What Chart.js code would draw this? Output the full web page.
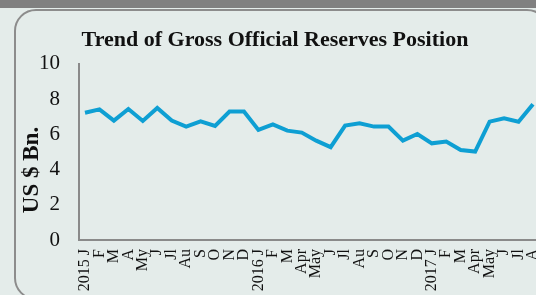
<!DOCTYPE html>
<html>
<head>
<meta charset="utf-8">
<script src="https://cdn.jsdelivr.net/npm/chart.js@4.4.1/dist/chart.umd.min.js"></script>
<style>
  html, body { margin: 0; padding: 0; width: 536px; height: 295px; overflow: hidden; background: #e4ecea; }
  #band { position: absolute; left: 0; top: 0; width: 536px; height: 8px; background: #808080; }
  #panel { position: absolute; left: 14px; top: 9px; width: 535px; height: 291px; box-sizing: border-box;
           border: 2px solid #8c8c8c; border-radius: 22px; background: #e4ecea; }
  #wrap { position: absolute; left: 0; top: 0; width: 536px; height: 295px; }
</style>
</head>
<body>
<div id="band"></div>
<div id="panel"></div>
<div id="wrap"><canvas id="c" width="536" height="295"></canvas></div>
<script>
// Meses (ene 2015 - ago 2017)
const monthLabels = ['2015 J', 'F', 'M', 'A', 'My', 'J', 'Jl', 'Au', 'S', 'O', 'N', 'D',
  '2016 J', 'F', 'M', 'Apr', 'May', 'J', 'Jl', 'Au', 'S', 'O', 'N', 'D',
  '2017 J', 'F', 'M', 'Apr', 'May', 'J', 'Jl', 'A'];
// Reservas brutas, US$ miles de millones
const reserves = [7.23, 7.42, 6.78, 7.44, 6.76, 7.50, 6.78, 6.44, 6.74, 6.48, 7.29, 7.29,
  6.25, 6.57, 6.21, 6.10, 5.64, 5.27, 6.50, 6.63, 6.44, 6.44, 5.64, 6.02,
  5.49, 5.59, 5.11, 5.02, 6.72, 6.91, 6.72, 7.71];
const yTicks = [0, 2, 4, 6, 8, 10];
const yTitle = 'US $ Bn.';

const serif = "'Liberation Serif', 'Times New Roman', serif";
const axisGrey = '#8a8a8a';

// Título del eje Y, un poco más abajo que el centro del eje
const yTitlePlugin = {
  id: 'yTitle',
  afterDraw(chart) {
    const ctx = chart.ctx;
    ctx.save();
    ctx.translate(32, 170);
    ctx.rotate(-Math.PI / 2);
    ctx.font = 'bold 23px ' + serif;
    ctx.fillStyle = '#111';
    ctx.textAlign = 'center';
    ctx.textBaseline = 'middle';
    ctx.fillText(yTitle, 0, 0);
    ctx.restore();
  }
};

new Chart(document.getElementById('c'), {
  type: 'line',
  data: {
    datasets: [{
      data: reserves.map((v, i) => ({ x: i, y: v })),
      borderColor: '#0e9fd3',
      borderWidth: 4,
      pointRadius: 0,
      tension: 0,
      fill: false
    }]
  },
  options: {
    responsive: false,
    animation: false,
    layout: { padding: { left: 14, right: 0, top: 0, bottom: 0 } },
    plugins: {
      legend: { display: false },
      tooltip: { enabled: false },
      title: {
        display: true,
        text: 'Trend of Gross Official Reserves Position',
        color: '#111',
        font: { family: serif, size: 22, weight: 'bold' },
        padding: { top: 27, bottom: 10.5 }
      }
    },
    scales: {
      x: {
        type: 'linear',
        min: -0.415,
        max: 31.21,
        afterBuildTicks: s => { s.ticks = monthLabels.map((_, i) => ({ value: i })); },
        afterFit: s => { s.height = 55; s.paddingLeft = 0; s.paddingRight = 0; },
        grid: { display: false, drawTicks: false },
        border: { display: true, color: axisGrey, width: 2 },
        ticks: {
          autoSkip: false,
          maxRotation: 90,
          minRotation: 90,
          padding: 9,
          color: '#111',
          font: { family: serif, size: 16 },
          callback: v => monthLabels[v] ?? ''
        }
      },
      y: {
        min: 0,
        max: 10,
        afterBuildTicks: s => { s.ticks = yTicks.map(v => ({ value: v })); },
        afterFit: s => { s.width = 65; s.paddingTop = 0; s.paddingBottom = 0; },
        grid: { display: false, drawTicks: false },
        border: { display: true, color: axisGrey, width: 2 },
        ticks: {
          padding: 19,
          color: '#111',
          font: { family: serif, size: 21 }
        }
      }
    }
  },
  plugins: [yTitlePlugin]
});
</script>
</body>
</html>
